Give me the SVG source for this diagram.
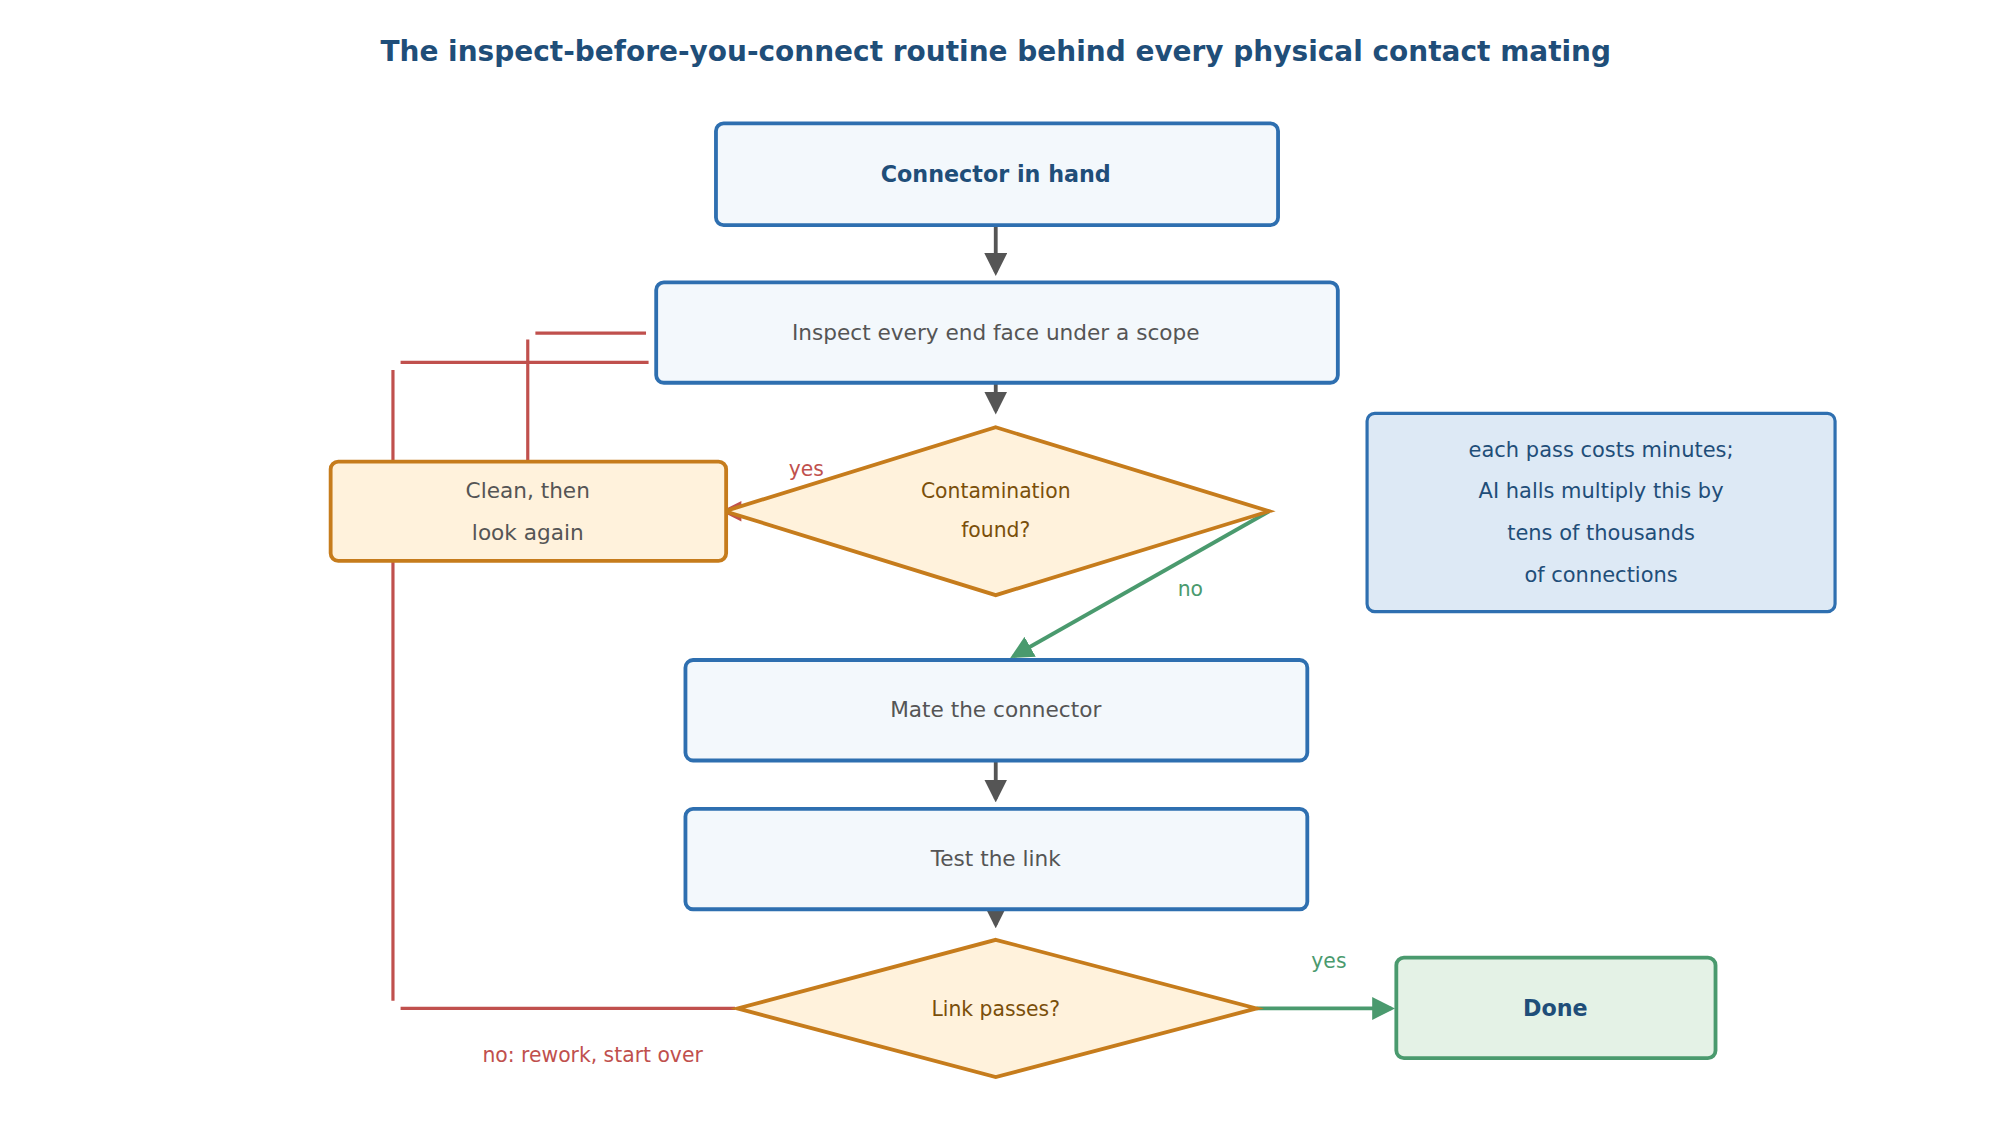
<svg xmlns="http://www.w3.org/2000/svg" width="1994" height="1128" viewBox="0 0 1994 1128">
<style>
text{font-family:"DejaVu Sans","Noto Sans",sans-serif;text-anchor:middle}
.t{font-size:34px;font-weight:bold;fill:#1f4e79}
.box{fill:#f3f8fc;stroke:#2e6fb0;stroke-width:3}
.dec{fill:#fff2dc;stroke:#c67c1c;stroke-width:3}
.done{fill:#e4f2e6;stroke:#4a9a6e;stroke-width:3}
.note{fill:#dde9f5;stroke:#2e6fb0;stroke-width:2.5}
.b{font-size:27px;font-weight:bold;fill:#1f4e79}
.n{font-size:27px;fill:#555}
.d{font-size:25.5px;fill:#7a4f0a}
.nt{font-size:27px;fill:#1f4e79}
.g{stroke:#555;stroke-width:3;fill:none}
.r{stroke:#c0504d;stroke-width:2.5;fill:none}
.gr{stroke:#4a9a6e;stroke-width:3;fill:none}
.lr{font-size:25.5px;fill:#c0504d}
.lg{font-size:25.5px;fill:#4a9a6e}
</style>
<defs>
<marker id="ag" markerWidth="6" markerHeight="6" refX="5" refY="3" orient="auto" markerUnits="strokeWidth"><path d="M0,0L6,3L0,6z" fill="#555"/></marker>
<marker id="agr" markerWidth="6" markerHeight="6" refX="5" refY="3" orient="auto" markerUnits="strokeWidth"><path d="M0,0L6,3L0,6z" fill="#4a9a6e"/></marker>
</defs>
<rect width="1994" height="1128" fill="#fff"/>
<g transform="scale(1.2717)">
<text class="t" x="783" y="48" font-size="22" style="font-size:22px">The inspect-before-you-connect routine behind every physical contact mating</text>
<g id="connectors">
<path class="g" d="M783 177V214" marker-end="url(#ag)"/>
<path class="g" d="M783 301V323" marker-end="url(#ag)"/>
<path class="g" d="M783 598V628" marker-end="url(#ag)"/>
<path class="g" d="M783 715V727" marker-end="url(#ag)"/>
<path d="M567 402L583 394L583 410Z" fill="#c0504d"/>
<text class="lr" x="634" y="374" style="font-size:16px">yes</text>
<path class="gr" d="M998 402L797 516" marker-end="url(#agr)"/>
<text class="lg" x="936" y="469" style="font-size:16px">no</text>
<path class="r" d="M415 363V267M421 262H508"/>
<path class="r" d="M578 793H315M309 787V291M315 285H510"/>
<text class="lr" x="466" y="835" style="font-size:16px">no: rework, start over</text>
<path class="gr" d="M988 793H1094" marker-end="url(#agr)"/>
<text class="lg" x="1045" y="761" style="font-size:16px">yes</text>
</g>
<g id="start"><rect class="box" x="563" y="97" width="442" height="80" rx="6"/><text class="b" x="783" y="143" style="font-size:17.5px">Connector in hand</text></g>
<g id="inspect"><rect class="box" x="516" y="222" width="536" height="79" rx="6"/><text class="n" x="783" y="267" style="font-size:17px">Inspect every end face under a scope</text></g>
<g id="contam"><path class="dec" d="M783 336L998 402L783 468L570 402Z"/><text class="d" x="783" y="392" style="font-size:16px">Contamination</text><text class="d" x="783" y="422" style="font-size:16px">found?</text></g>
<g id="clean"><rect class="dec" x="260" y="363" width="311" height="78" rx="6"/><text class="n" x="415" y="392" style="font-size:17px">Clean, then</text><text class="n" x="415" y="425" style="font-size:17px">look again</text></g>
<g id="note"><rect class="note" x="1075" y="325" width="368" height="156" rx="6"/><text class="nt" x="1259" y="359" style="font-size:16.5px">each pass costs minutes;</text><text class="nt" x="1259" y="392" style="font-size:16.5px">AI halls multiply this by</text><text class="nt" x="1259" y="425" style="font-size:16.5px">tens of thousands</text><text class="nt" x="1259" y="458" style="font-size:16.5px">of connections</text></g>
<g id="mate"><rect class="box" x="539" y="519" width="489" height="79" rx="6"/><text class="n" x="783" y="564" style="font-size:17px">Mate the connector</text></g>
<g id="test"><rect class="box" x="539" y="636" width="489" height="79" rx="6"/><text class="n" x="783" y="681" style="font-size:17px">Test the link</text></g>
<g id="passes"><path class="dec" d="M783 739L988 793L783 847L580 793Z"/><text class="d" x="783" y="799" style="font-size:16px">Link passes?</text></g>
<g id="done"><rect class="done" x="1098" y="753" width="251" height="79" rx="6"/><text class="b" x="1223" y="799" style="font-size:17.5px">Done</text></g>
</g>
</svg>
